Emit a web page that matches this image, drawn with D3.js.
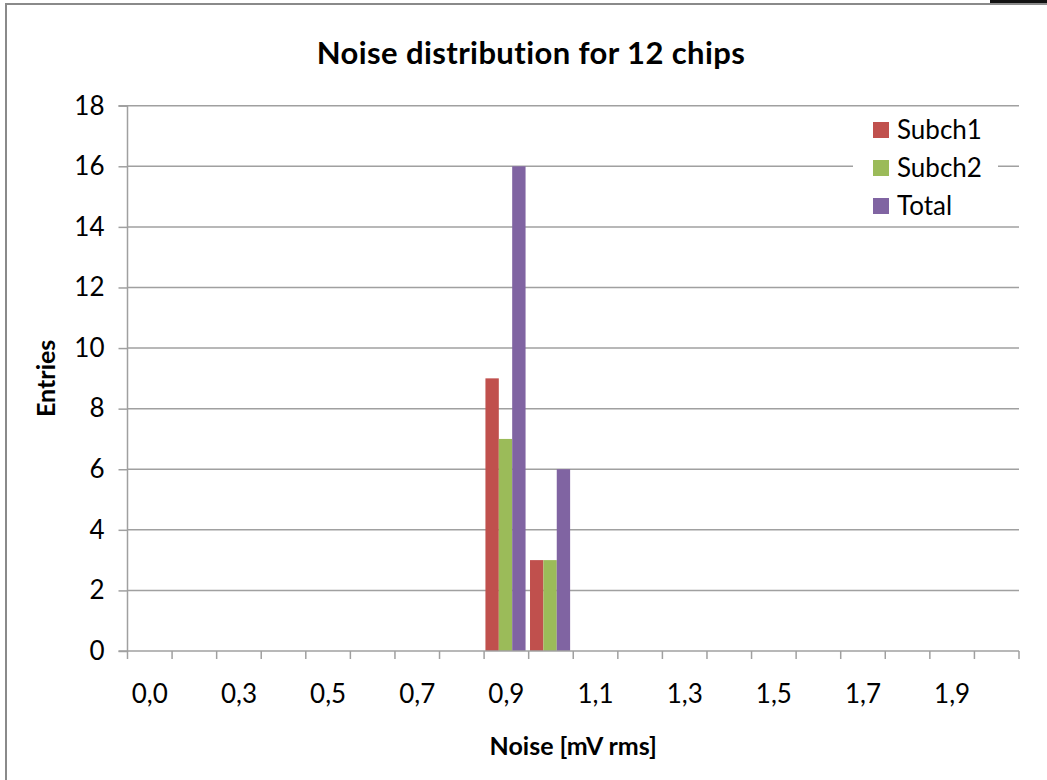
<!DOCTYPE html>
<html>
<head>
<meta charset="utf-8">
<script src="https://cdn.jsdelivr.net/npm/d3@7"></script>
<style>
  html, body { margin: 0; padding: 0; background: #fff; }
  svg { display: block; }
  text { font-family: Lato, "Open Sans", sans-serif; fill: #000; }
</style>
</head>
<body>
<script>
// Noise bins (mV rms), one category per bin
const categories = ["0,0","0,2","0,3","0,4","0,5","0,6","0,7","0,8","0,9","1,0",
                    "1,1","1,2","1,3","1,4","1,5","1,6","1,7","1,8","1,9","2,0"];
// Every other bin carries a visible label
const tickLabels = ["0,0","0,3","0,5","0,7","0,9","1,1","1,3","1,5","1,7","1,9"];
const seriesNames = ["Subch1", "Subch2", "Total"];
const subch1 = [0,0,0,0,0,0,0,0,9,3,0,0,0,0,0,0,0,0,0,0];
const subch2 = [0,0,0,0,0,0,0,0,7,3,0,0,0,0,0,0,0,0,0,0];
const total  = [0,0,0,0,0,0,0,0,16,6,0,0,0,0,0,0,0,0,0,0];
const yTicks = [0,2,4,6,8,10,12,14,16,18];
const colors = ["#C0504D", "#9BBB59", "#8064A2"];

const W = 1047, H = 780;
const plot = { left: 127.5, right: 1019, top: 105.7, bottom: 651 };

const svg = d3.select("body").append("svg").attr("width", W).attr("height", H);

// chart area frame
svg.append("rect").attr("x", 6).attr("y", 4).attr("width", 1200).attr("height", 1000)
  .attr("fill", "#fff").attr("stroke", "#8a8a8a").attr("stroke-width", 2);
svg.append("rect").attr("x", 990).attr("y", 0).attr("width", 57).attr("height", 3).attr("fill", "#111");

const x0 = d3.scaleBand().domain(categories).range([plot.left, plot.right]).paddingInner(0).paddingOuter(0);
const x1 = d3.scaleBand().domain(seriesNames).range([x0.bandwidth() * 0.03, x0.bandwidth() * 0.93]);
const y = d3.scaleLinear().domain([0, 18]).range([plot.bottom, plot.top]);

const gridColor = "#a0a0a0";

// horizontal gridlines
svg.append("g").selectAll("line").data(yTicks.filter(d => d > 0)).join("line")
  .attr("x1", plot.left).attr("x2", plot.right)
  .attr("y1", d => y(d)).attr("y2", d => y(d))
  .attr("stroke", gridColor).attr("stroke-width", 1.5);

// y axis
const yAxis = d3.axisLeft(y).tickValues(yTicks).tickSize(9).tickPadding(14).tickFormat(d3.format("d"));
const gy = svg.append("g").attr("transform", `translate(${plot.left},0)`).call(yAxis);
gy.select(".domain").attr("stroke", gridColor).attr("stroke-width", 1.5).attr("d", `M-9,${plot.bottom}H0V${plot.top}H-9`);
gy.selectAll(".tick line").attr("stroke", gridColor).attr("stroke-width", 1.5);
gy.selectAll(".tick text").style("font-family", "Lato").style("font-size", "26px").attr("fill", "#000");

// bars
const series = [subch1, subch2, total];
const bars = svg.append("g");
series.forEach((vals, si) => {
  bars.append("g").selectAll("rect").data(vals.map((v, i) => ({ v, c: categories[i] })).filter(d => d.v > 0))
    .join("rect")
    .attr("x", d => x0(d.c) + x1(seriesNames[si]))
    .attr("width", x1.bandwidth())
    .attr("y", d => y(d.v))
    .attr("height", d => y(0) - y(d.v))
    .attr("fill", colors[si]);
});

// x axis with ticks at bin boundaries
const gx = svg.append("g");
gx.append("line").attr("x1", plot.left).attr("x2", plot.right)
  .attr("y1", plot.bottom).attr("y2", plot.bottom).attr("stroke", gridColor).attr("stroke-width", 1.5);
const bounds = categories.map(c => x0(c)).concat([plot.right]);
gx.selectAll("line.tk").data(bounds).join("line").attr("class", "tk")
  .attr("x1", d => d).attr("x2", d => d)
  .attr("y1", plot.bottom).attr("y2", plot.bottom + 8)
  .attr("stroke", gridColor).attr("stroke-width", 1.5);
gx.selectAll("text").data(categories.filter((c, i) => i % 2 === 0).map((c, k) => ({ c, label: tickLabels[k] })))
  .join("text")
  .attr("x", d => x0(d.c) + x0.bandwidth() / 2)
  .attr("y", 703)
  .attr("text-anchor", "middle")
  .style("font-size", "26px")
  .text(d => d.label);

// titles
svg.append("text").attr("x", 531).attr("y", 64).attr("text-anchor", "middle")
  .style("font-size", "31px").style("font-weight", "bold").style("letter-spacing", "0.4px")
  .text("Noise distribution for 12 chips");
svg.append("text").attr("x", (plot.left + plot.right) / 2).attr("y", 755).attr("text-anchor", "middle")
  .style("font-size", "25px").style("font-weight", "bold").text("Noise [mV rms]");
svg.append("text").attr("transform", `translate(55,${(plot.top + plot.bottom) / 2}) rotate(-90)`)
  .attr("text-anchor", "middle")
  .style("font-size", "25px").style("font-weight", "bold").text("Entries");

// legend
const lg = svg.append("g");
lg.append("rect").attr("x", 853).attr("y", 112).attr("width", 145).attr("height", 110).attr("fill", "#fff");
const rowY = [130, 168, 206];
seriesNames.forEach((name, i) => {
  lg.append("rect").attr("x", 873).attr("y", rowY[i] - 8).attr("width", 16).attr("height", 16).attr("fill", colors[i]);
  lg.append("text").attr("x", 897).attr("y", rowY[i] + 9).style("font-size", "26px").text(name);
});
</script>
</body>
</html>
